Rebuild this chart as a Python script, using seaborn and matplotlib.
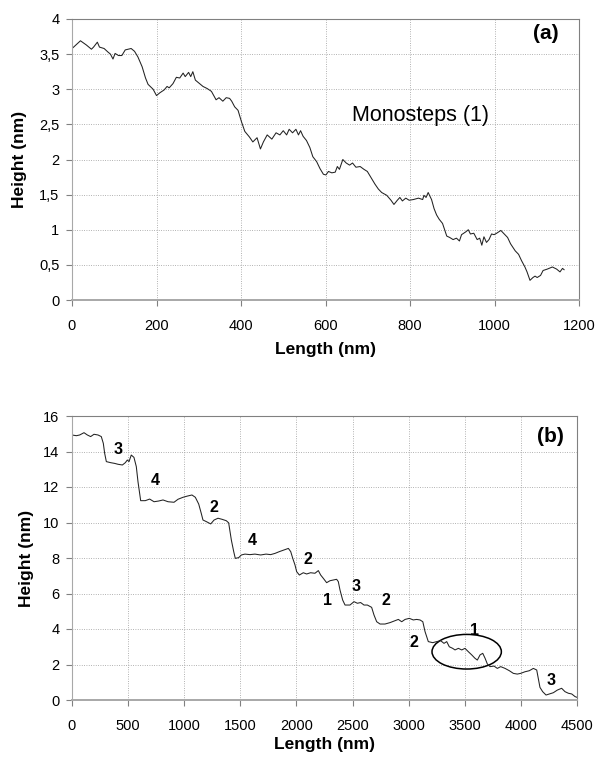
import seaborn as sns
import matplotlib.pyplot as plt
import pandas as pd
from matplotlib.patches import Ellipse

# (a) profile - monosteps
len_a = [2, 20, 34, 46, 51, 60, 65, 76, 85, 91, 97, 102, 110, 118, 126, 140, 148, 156, 166, 174,
         180, 192, 200, 208, 218, 225, 230, 239, 247, 255, 263, 268, 276, 281, 286, 292, 302, 310,
         320, 330, 341, 348, 357, 365, 373, 378, 385, 393, 401, 409, 420, 428, 438, 446, 453, 462,
         473, 483, 492, 500, 508, 514, 522, 530, 536, 541, 547, 555, 563, 570, 579, 587, 595, 601,
         607, 615, 623, 628, 633, 641, 649, 657, 664, 672, 682, 691, 699, 709, 717, 725, 733, 745,
         755, 762, 770, 776, 782, 790, 798, 808, 820, 830, 833, 838, 843, 851, 857, 863, 869, 877,
         887, 894, 902, 910, 917, 922, 932, 938, 943, 951, 959, 965, 970, 975, 981, 987, 993, 999,
         1005, 1015, 1023, 1031, 1038, 1049, 1057, 1064, 1072, 1077, 1084, 1091, 1096, 1101, 1109,
         1115, 1125, 1137, 1147, 1155, 1161, 1165]
height_a = [3.59, 3.69, 3.63, 3.57, 3.60, 3.67, 3.60, 3.58, 3.53, 3.50, 3.43, 3.51, 3.48, 3.48, 3.56,
            3.58, 3.54, 3.46, 3.32, 3.16, 3.07, 3.00, 2.91, 2.95, 2.99, 3.04, 3.02, 3.08, 3.17, 3.16,
            3.23, 3.18, 3.24, 3.18, 3.25, 3.13, 3.08, 3.04, 3.01, 2.97, 2.85, 2.88, 2.83, 2.88, 2.87,
            2.83, 2.75, 2.70, 2.54, 2.40, 2.32, 2.25, 2.31, 2.15, 2.25, 2.35, 2.29, 2.38, 2.35, 2.41,
            2.35, 2.43, 2.38, 2.43, 2.35, 2.41, 2.33, 2.27, 2.17, 2.04, 1.97, 1.87, 1.79, 1.78, 1.83,
            1.81, 1.82, 1.90, 1.86, 2.00, 1.95, 1.92, 1.95, 1.89, 1.90, 1.86, 1.83, 1.73, 1.65, 1.58,
            1.53, 1.49, 1.42, 1.36, 1.42, 1.46, 1.41, 1.45, 1.42, 1.43, 1.45, 1.43, 1.49, 1.46, 1.53,
            1.43, 1.30, 1.21, 1.15, 1.09, 0.91, 0.89, 0.86, 0.88, 0.84, 0.93, 0.97, 1.00, 0.94, 0.95,
            0.86, 0.88, 0.78, 0.90, 0.82, 0.86, 0.94, 0.93, 0.95, 0.99, 0.94, 0.89, 0.80, 0.70, 0.65,
            0.56, 0.47, 0.40, 0.28, 0.32, 0.34, 0.32, 0.35, 0.42, 0.44, 0.47, 0.44, 0.40, 0.45, 0.43]

# (b) profile - multisteps
len_b = [0, 39, 68, 107, 137, 166, 196, 232, 261, 279, 291, 306, 345, 380, 410, 449, 475, 493, 508,
         528, 552, 573, 588, 603, 612, 653, 692, 731, 772, 811, 856, 909, 945, 989, 1029, 1069, 1099,
         1129, 1152, 1167, 1197, 1236, 1266, 1301, 1337, 1375, 1396, 1420, 1441, 1455, 1485, 1509,
         1541, 1586, 1630, 1681, 1729, 1770, 1809, 1848, 1889, 1928, 1949, 1967, 1987, 2002, 2026,
         2061, 2091, 2126, 2165, 2195, 2216, 2240, 2269, 2299, 2329, 2358, 2373, 2388, 2412, 2433,
         2477, 2513, 2543, 2572, 2602, 2632, 2670, 2691, 2715, 2745, 2789, 2834, 2878, 2908, 2938,
         2968, 3006, 3041, 3071, 3101, 3126, 3146, 3175, 3214, 3250, 3285, 3315, 3339, 3362, 3392,
         3413, 3443, 3473, 3502, 3532, 3562, 3591, 3612, 3636, 3660, 3681, 3701, 3725, 3761, 3790,
         3820, 3859, 3897, 3933, 3968, 3998, 4036, 4075, 4111, 4141, 4155, 4170, 4194, 4224, 4253,
         4289, 4325, 4363, 4393, 4423, 4453, 4483, 4500]
height_b = [14.93, 14.89, 14.93, 15.06, 14.93, 14.84, 14.97, 14.93, 14.84, 14.46, 13.90, 13.43, 13.37,
            13.33, 13.28, 13.24, 13.37, 13.52, 13.43, 13.80, 13.67, 13.15, 12.30, 11.64, 11.23, 11.23,
            11.32, 11.17, 11.21, 11.27, 11.17, 11.14, 11.31, 11.42, 11.49, 11.55, 11.42, 11.04, 10.51,
            10.14, 10.05, 9.92, 10.14, 10.24, 10.18, 10.10, 9.98, 9.01, 8.36, 7.98, 8.02, 8.17, 8.22,
            8.19, 8.22, 8.17, 8.22, 8.19, 8.26, 8.36, 8.45, 8.54, 8.36, 7.98, 7.61, 7.23, 7.04, 7.17,
            7.10, 7.17, 7.14, 7.29, 7.04, 6.85, 6.61, 6.72, 6.76, 6.80, 6.67, 6.20, 5.63, 5.35, 5.35,
            5.54, 5.45, 5.49, 5.35, 5.35, 5.22, 4.79, 4.41, 4.28, 4.28, 4.36, 4.47, 4.54, 4.41, 4.54,
            4.60, 4.51, 4.54, 4.51, 4.41, 3.85, 3.29, 3.23, 3.29, 3.34, 3.19, 3.29, 3.00, 2.91, 2.82,
            2.91, 2.82, 2.91, 2.72, 2.54, 2.35, 2.25, 2.54, 2.63, 2.35, 2.03, 1.88, 1.91, 1.78, 1.88,
            1.78, 1.65, 1.50, 1.46, 1.50, 1.59, 1.65, 1.78, 1.69, 1.22, 0.71, 0.47, 0.28, 0.34, 0.41,
            0.56, 0.66, 0.47, 0.38, 0.34, 0.19, 0.15]

# step-height labels on (b)
step_text = ["3", "4", "2", "4", "2", "1", "3", "2", "2", "1", "3"]
step_x = [410, 746, 1265, 1607, 2100, 2275, 2528, 2798, 3048, 3591, 4265]
step_y = [14.14, 12.39, 10.83, 9.01, 7.93, 5.58, 6.38, 5.63, 3.23, 3.91, 1.09]

xticks_a = [0, 200, 400, 600, 800, 1000, 1200]
yticks_a = [0, 0.5, 1, 1.5, 2, 2.5, 3, 3.5, 4]
ylabels_a = ["0", "0,5", "1", "1,5", "2", "2,5", "3", "3,5", "4"]
xticks_b = [0, 500, 1000, 1500, 2000, 2500, 3000, 3500, 4000, 4500]
yticks_b = [0, 2, 4, 6, 8, 10, 12, 14, 16]

sns.set_style("white")
plt.rcParams['font.family'] = ['Liberation Sans', 'DejaVu Sans']
plt.rcParams['text.color'] = 'black'
plt.rcParams['axes.labelcolor'] = 'black'

fig = plt.figure(figsize=(5.98, 7.62), dpi=100)
W, H = 598, 762
ax1 = fig.add_axes([72 / W, (H - 300) / H, 507 / W, 281 / H])
ax2 = fig.add_axes([72 / W, (H - 700) / H, 505 / W, 284 / H])

df_a = pd.DataFrame({"len": len_a, "h": height_a})
df_b = pd.DataFrame({"len": len_b, "h": height_b})
sns.lineplot(data=df_a, x="len", y="h", ax=ax1, color="#222222", lw=0.75, estimator=None, sort=False)
sns.lineplot(data=df_b, x="len", y="h", ax=ax2, color="#222222", lw=0.75, estimator=None, sort=False)


def style(ax, xt, yt, ylab, xlab_y, ylab_x):
    ax.set_xlim(xt[0], xt[-1])
    ax.set_ylim(yt[0], yt[-1])
    ax.set_xticks(xt)
    ax.set_yticks(yt)
    ax.set_yticklabels(ylab)
    ax.grid(True, ls=(0, (1, 1.8)), color="#999999", lw=0.6)
    for s in ax.spines.values():
        s.set_color("#808080")
        s.set_linewidth(0.8)
    ax.spines["bottom"].set_color("#a8a8a8")
    ax.spines["bottom"].set_linewidth(1.4)
    ax.spines["left"].set_color("#a8a8a8")
    ax.tick_params(axis="x", direction="out", length=4, width=0.8, color="#808080",
                   pad=10, labelsize=10.5, labelcolor="black", bottom=True)
    ax.tick_params(axis="y", direction="out", length=4, width=0.8, color="#808080",
                   pad=5, labelsize=10.5, labelcolor="black", left=True)
    ax.set_xlabel("Length (nm)", fontsize=12.5, fontweight="bold")
    ax.set_ylabel("Height (nm)", fontsize=12.5, fontweight="bold")
    ax.xaxis.set_label_coords(0.5, xlab_y)
    ax.yaxis.set_label_coords(ylab_x, 0.5)


style(ax1, xticks_a, yticks_a, ylabels_a, -0.15, -0.088)
style(ax2, xticks_b, yticks_b, [str(v) for v in yticks_b], -0.13, -0.075)

ax1.text(824, 2.63, "Monosteps (1)", fontsize=15.5, ha="center", va="center")
ax1.text(1122, 3.80, "(a)", fontsize=15, fontweight="bold", ha="center", va="center")
ax2.text(4265, 14.83, "(b)", fontsize=15, fontweight="bold", ha="center", va="center")

for t, x, y in zip(step_text, step_x, step_y):
    ax2.text(x, y, t, fontsize=11.5, fontweight="bold", ha="center", va="center")

ax2.add_patch(Ellipse((3517, 2.72), 618, 1.95, fill=False, ec="black", lw=1.1))

fig.savefig("out.png", dpi=100, facecolor="white")
